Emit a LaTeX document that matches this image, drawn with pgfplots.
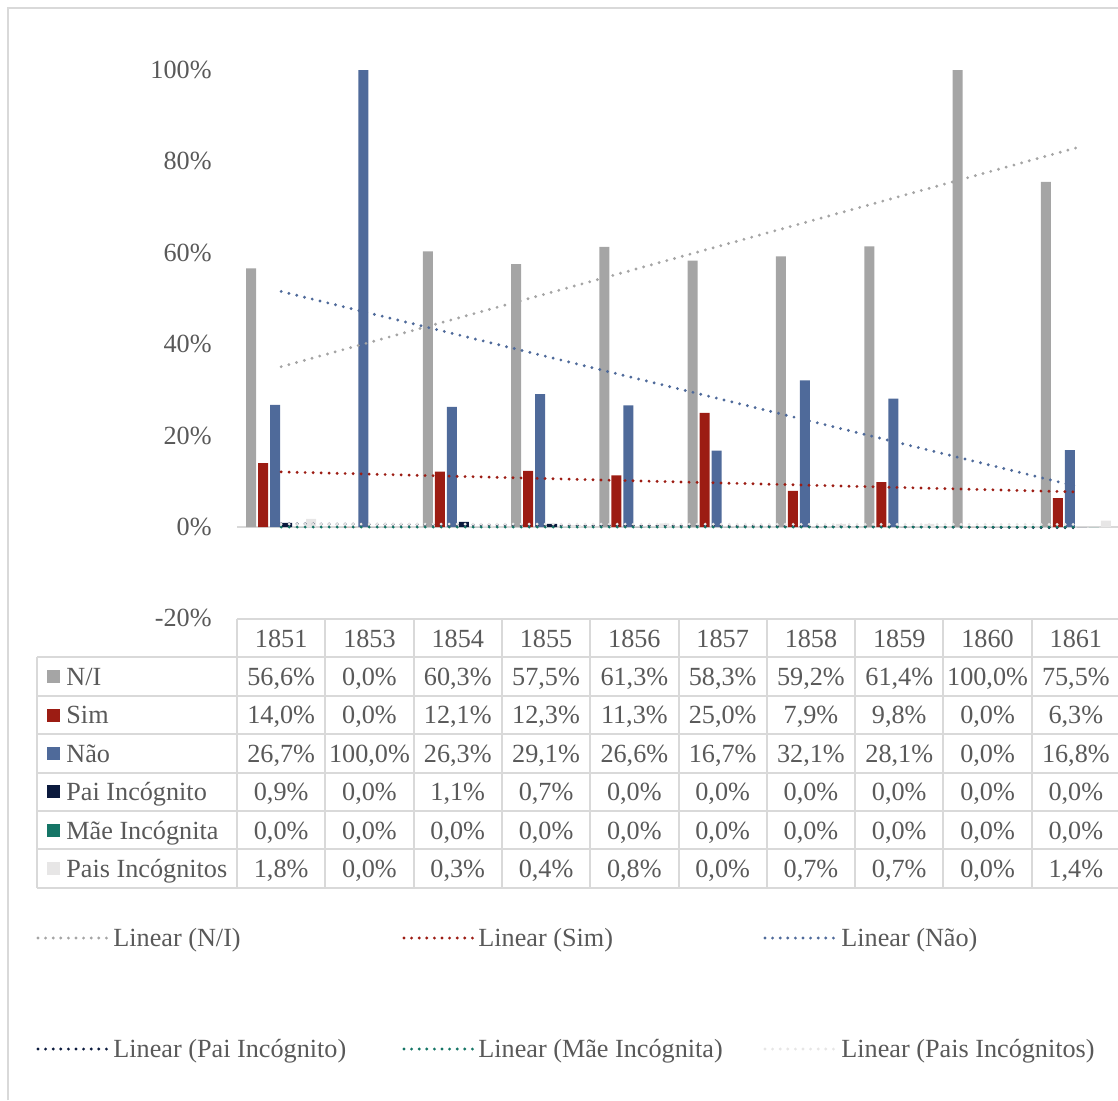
\documentclass[border=0pt]{standalone}
\usepackage{fontspec}
\setmainfont{Liberation Serif}
\usepackage{pgfplots}
\usepackage{pgfplotstable}
\pgfplotsset{compat=1.18}
\pgfkeys{/pgf/number format/assume math mode=true}

\definecolor{cNI}{HTML}{A5A5A5}
\definecolor{cSim}{HTML}{9C1C13}
\definecolor{cNao}{HTML}{4F6A9A}
\definecolor{cPai}{HTML}{0B1A3D}
\definecolor{cMae}{HTML}{157566}
\definecolor{cPais}{HTML}{E7E6E6}
\definecolor{cGrid}{HTML}{D9D9D9}
\definecolor{txt}{HTML}{595959}

% shares per year (%), x = category index
\pgfplotstableread{
x  NI    Sim   Nao   Pai  Mae  Pais
1  56.6  14.0  26.7  0.9  0.0  1.8
2  0.0   0.0   100.0 0.0  0.0  0.0
3  60.3  12.1  26.3  1.1  0.0  0.3
4  57.5  12.3  29.1  0.7  0.0  0.4
5  61.3  11.3  26.6  0.0  0.0  0.8
6  58.3  25.0  16.7  0.0  0.0  0.0
7  59.2  7.9   32.1  0.0  0.0  0.7
8  61.4  9.8   28.1  0.0  0.0  0.7
9  100.0 0.0   0.0   0.0  0.0  0.0
10 75.5  6.3   16.8  0.0  0.0  1.4
}\data

\tikzset{trend/.style={line width=1.6pt, dash pattern=on 0pt off 4pt, line cap=round},
  cell/.style={inner sep=0pt, text height=8.85pt, text depth=0pt, text=txt}}

\newcommand\legentry[5]{%
  \draw[#3, trend, dash pattern=on 0pt off 3.8pt] (#1,#2) -- ++(34.5,0);
  \node[cell, anchor=west] at (#4,#2) {#5};}

\begin{document}
\begin{tikzpicture}[font=\fontsize{13.1}{15.5}\selectfont]
\useasboundingbox (0pt,0pt) rectangle (559pt,-550pt);
\draw[cGrid, line width=1pt] (4pt,-550pt) -- (4pt,-4pt) -- (560pt,-4pt);

\begin{axis}[
  at={(118.5pt,-35pt)}, anchor=north west,
  scale only axis, width=441.5pt, height=274.2pt,
  xmin=0.5, xmax=10.5, ymin=-20, ymax=100,
  axis line style={draw=none},
  xtick=\empty,
  ytick={-20,0,20,40,60,80,100},
  yticklabels={-20\%,0\%,20\%,40\%,60\%,80\%,100\%},
  ytick style={draw=none},
  yticklabel style={anchor=east, inner sep=0pt, xshift=-12.5pt,
    font=\fontsize{13.1}{15.5}\selectfont, text=txt},
  clip=false,
]
\draw[cGrid, line width=1pt] (axis cs:0.5,0) -- (axis cs:10.5,0);
\addplot[ybar, bar width=5pt, bar shift=-15pt, fill=cNI,   draw=none] table[x=x,y=NI]   {\data};
\addplot[ybar, bar width=5pt, bar shift=-9pt,  fill=cSim,  draw=none] table[x=x,y=Sim]  {\data};
\addplot[ybar, bar width=5pt, bar shift=-3pt,  fill=cNao,  draw=none] table[x=x,y=Nao]  {\data};
\addplot[ybar, bar width=5pt, bar shift=3pt,   fill=cPai,  draw=none] table[x=x,y=Pai]  {\data};
\addplot[ybar, bar width=5pt, bar shift=9pt,   fill=cMae,  draw=none] table[x=x,y=Mae]  {\data};
\addplot[ybar, bar width=5pt, bar shift=15pt,  fill=cPais, draw=none] table[x=x,y=Pais] {\data};
% linear trend lines
\addplot[cNI,   trend, mark=none] table[x=x, y={create col/linear regression={y=NI}}]   {\data};
\addplot[cSim,  trend, mark=none] table[x=x, y={create col/linear regression={y=Sim}}]  {\data};
\addplot[cNao,  trend, mark=none] table[x=x, y={create col/linear regression={y=Nao}}]  {\data};
\addplot[cPai,  trend, mark=none] table[x=x, y={create col/linear regression={y=Pai}}]  {\data};
\addplot[cMae,  trend, mark=none] table[x=x, y={create col/linear regression={y=Mae}}]  {\data};
\addplot[cPais, trend, mark=none] table[x=x, y={create col/linear regression={y=Pais}}] {\data};
\end{axis}

\begin{scope}[x=1pt, y=1pt]
% data table grid
\begin{scope}[cGrid, line width=1pt]
\foreach \k in {0,...,10}
  \draw ({118.5+\k*44.15},-309.5) -- ({118.5+\k*44.15},-443.9);
\draw (118.5,-309.5) -- (560,-309.5);
\foreach \r in {1,...,7}
  \draw (18.5,{-309.5-\r*19.2}) -- (560,{-309.5-\r*19.2});
\draw (18.5,-328.7) -- (18.5,-443.9);
\end{scope}
% header
\foreach \yr [count=\k] in {1851,1853,1854,1855,1856,1857,1858,1859,1860,1861}
  \node[cell] at ({118.5+(\k-0.5)*44.15},-319.1) {\yr};
% rows
\foreach \cn/\cc/\lab [count=\r] in {NI/cNI/{N/I},Sim/cSim/Sim,Nao/cNao/Não,
    Pai/cPai/Pai Incógnito,Mae/cMae/Mãe Incógnita,Pais/cPais/Pais Incógnitos}{
  \pgfmathsetmacro\yc{-309.5-(\r+0.5)*19.2}
  \fill[\cc] (23.5,\yc-3.25) rectangle ++(6.5,6.5);
  \node[cell, anchor=west] at (33,\yc) {\lab};
  \foreach \k in {0,...,9}{
    \pgfplotstablegetelem{\k}{\cn}\of\data
    \node[cell] at ({118.5+(\k+0.5)*44.15},\yc)
      {\pgfmathprintnumber[fixed, fixed zerofill, precision=1, use comma]{\pgfplotsretval}\%};
  }
}
% legend
\legentry{19}{-469}{cNI}{56.5}{Linear (N/I)}
\legentry{202}{-469}{cSim}{239}{Linear (Sim)}
\legentry{382.5}{-469}{cNao}{420.5}{Linear (Não)}
\legentry{19}{-524.5}{cPai}{56.5}{Linear (Pai Incógnito)}
\legentry{202}{-524.5}{cMae}{239}{Linear (Mãe Incógnita)}
\legentry{382.5}{-524.5}{cPais}{420.5}{Linear (Pais Incógnitos)}
\end{scope}
\end{tikzpicture}
\end{document}
